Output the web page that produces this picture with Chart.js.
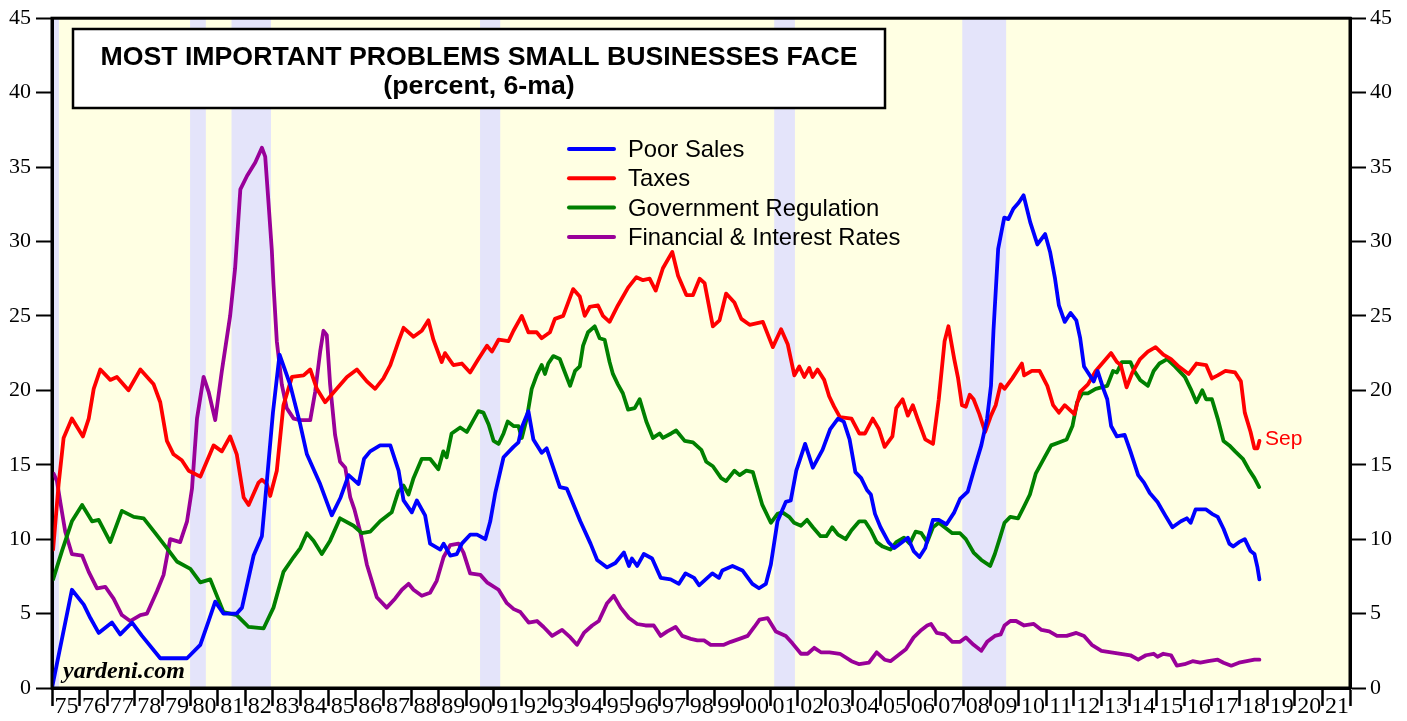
<!DOCTYPE html>
<html><head><meta charset="utf-8">
<script src="https://cdn.jsdelivr.net/npm/chart.js@4.4.1/dist/chart.umd.min.js"></script>
<style>html,body{margin:0;padding:0;background:#fff;overflow:hidden}</style>
</head><body>
<canvas id="c" width="1407" height="721"></canvas>
<script>
// ---------------- DATA ----------------
const seriesNames = ["Poor Sales", "Taxes", "Government Regulation", "Financial & Interest Rates"];
const recessions = [[1973.9,1975.25],[1980.0,1980.57],[1981.5,1982.93],[1990.5,1991.23],[2001.15,2001.9],[2007.96,2009.55]];

const salesYears = [1975.0,1975.72,1976.15,1976.39,1976.69,1977.17,1977.47,1977.9,1978.26,1978.92,1979.89,1980.37,1980.67,1980.91,1981.21,1981.69,1981.88,1982.3,1982.6,1982.78,1983.0,1983.24,1983.62,1983.99,1984.23,1984.71,1985.13,1985.45,1985.74,1986.1,1986.3,1986.52,1986.88,1987.25,1987.55,1987.73,1988.03,1988.21,1988.51,1988.69,1989.06,1989.18,1989.42,1989.66,1989.84,1990.14,1990.39,1990.69,1990.87,1991.05,1991.35,1991.71,1991.89,1992.01,1992.25,1992.43,1992.73,1992.91,1993.15,1993.39,1993.64,1993.82,1994.13,1994.5,1994.74,1995.1,1995.4,1995.71,1995.89,1996.0,1996.19,1996.43,1996.73,1997.04,1997.4,1997.7,1997.94,1998.25,1998.43,1998.67,1998.91,1999.15,1999.27,1999.64,2000.0,2000.36,2000.6,2000.85,2001.03,2001.27,2001.57,2001.75,2001.95,2002.27,2002.55,2002.9,2003.18,2003.46,2003.67,2003.88,2004.09,2004.3,2004.51,2004.65,2004.8,2005.0,2005.29,2005.5,2005.78,2005.99,2006.2,2006.41,2006.62,2006.9,2007.11,2007.39,2007.67,2007.88,2008.16,2008.44,2008.65,2008.86,2009.0,2009.09,2009.26,2009.48,2009.63,2009.81,2010.0,2010.18,2010.42,2010.68,2010.96,2011.14,2011.32,2011.46,2011.67,2011.88,2012.09,2012.23,2012.37,2012.51,2012.72,2012.86,2013.07,2013.21,2013.35,2013.56,2013.84,2014.05,2014.33,2014.54,2014.75,2015.03,2015.31,2015.57,2015.88,2016.09,2016.23,2016.41,2016.79,2017.0,2017.21,2017.42,2017.63,2017.77,2017.98,2018.19,2018.4,2018.54,2018.65,2018.72];
const salesValues = [0,6.6,5.6,4.7,3.7,4.4,3.6,4.4,3.5,2.0,2.0,2.9,4.5,5.8,5.0,5.0,5.4,8.9,10.2,13.9,18.5,22.4,20.4,17.7,15.7,13.7,11.6,12.8,14.3,13.7,15.4,15.9,16.3,16.3,14.6,12.6,11.8,12.6,11.6,9.7,9.3,9.7,8.9,9.0,9.7,10.3,10.3,10.0,11.2,13.1,15.5,16.2,16.5,17.5,18.6,16.7,15.8,16.1,14.8,13.5,13.4,12.6,11.2,9.7,8.6,8.1,8.4,9.1,8.2,8.7,8.2,9.0,8.7,7.4,7.3,7.0,7.7,7.4,6.9,7.3,7.7,7.4,7.9,8.2,7.9,7.0,6.7,7.0,8.3,11.2,12.5,12.6,14.6,16.4,14.8,16.0,17.4,18.1,17.9,16.7,14.5,14.1,13.3,13.0,11.7,10.8,9.8,9.4,9.8,10.1,9.2,8.8,9.4,11.3,11.3,11.0,11.8,12.7,13.2,15.0,16.3,18.1,20.3,24.0,29.5,31.6,31.5,32.2,32.6,33.1,31.3,29.8,30.5,29.3,27.5,25.7,24.6,25.2,24.7,23.5,21.6,21.2,20.6,21.3,20.1,19.4,17.6,16.9,17.0,15.9,14.3,13.8,13.1,12.5,11.6,10.8,11.2,11.4,11.1,12.0,12.0,11.7,11.5,10.7,9.7,9.5,9.8,10.0,9.2,9.0,8.1,7.3];

const taxesYears = [1975.04,1975.24,1975.42,1975.72,1976.12,1976.33,1976.51,1976.75,1977.11,1977.35,1977.77,1978.2,1978.68,1978.92,1979.16,1979.4,1979.7,1979.95,1980.37,1980.85,1981.15,1981.45,1981.69,1981.94,1982.12,1982.48,1982.6,1982.78,1982.9,1983.14,1983.38,1983.69,1984.11,1984.35,1984.59,1984.89,1985.31,1985.68,1986.04,1986.4,1986.7,1987.0,1987.25,1987.55,1987.73,1988.09,1988.39,1988.63,1988.81,1989.11,1989.23,1989.53,1989.84,1990.14,1990.44,1990.75,1990.93,1991.17,1991.53,1991.71,1992.01,1992.25,1992.55,1992.73,1993.03,1993.21,1993.51,1993.87,1994.11,1994.29,1994.47,1994.77,1994.95,1995.19,1995.49,1995.86,1996.16,1996.4,1996.64,1996.86,1997.12,1997.46,1997.67,1997.97,1998.21,1998.45,1998.63,1998.93,1999.17,1999.41,1999.71,1999.96,2000.26,2000.74,2001.1,2001.4,2001.64,2001.88,2002.06,2002.24,2002.42,2002.54,2002.72,2002.96,2003.14,2003.32,2003.53,2003.95,2004.23,2004.44,2004.72,2004.94,2005.15,2005.43,2005.57,2005.8,2005.99,2006.17,2006.34,2006.62,2006.9,2007.11,2007.32,2007.46,2007.67,2007.81,2007.95,2008.09,2008.23,2008.37,2008.58,2008.79,2009.0,2009.17,2009.35,2009.49,2009.77,2010.12,2010.2,2010.48,2010.76,2011.04,2011.25,2011.46,2011.67,2012.02,2012.23,2012.51,2012.79,2013.07,2013.35,2013.56,2013.7,2013.91,2014.12,2014.4,2014.68,2014.96,2015.24,2015.52,2015.8,2016.16,2016.44,2016.79,2017.0,2017.21,2017.49,2017.84,2018.05,2018.19,2018.4,2018.54,2018.65,2018.72];
const taxesValues = [9.3,13.7,16.8,18.1,16.9,18.1,20.1,21.4,20.7,20.9,20.0,21.4,20.4,19.2,16.6,15.7,15.3,14.6,14.2,16.3,15.9,16.9,15.7,12.8,12.3,13.8,14.0,13.7,12.9,14.6,19.0,20.9,21.0,21.4,20.1,19.2,20.1,20.9,21.4,20.6,20.1,20.8,21.7,23.3,24.2,23.6,24.0,24.7,23.4,21.9,22.5,21.7,21.8,21.2,22.1,23.0,22.6,23.4,23.3,24.0,25.0,23.9,23.9,23.5,23.9,24.8,25.0,26.8,26.3,25.0,25.6,25.7,25.0,24.6,25.7,26.9,27.6,27.4,27.5,26.7,28.2,29.3,27.7,26.4,26.4,27.5,27.2,24.3,24.7,26.5,25.9,24.8,24.4,24.6,22.9,24.1,23.1,21.0,21.6,20.9,21.5,20.9,21.4,20.7,19.6,18.9,18.2,18.1,17.1,17.1,18.1,17.4,16.2,16.9,18.8,19.4,18.3,19.0,18.1,16.7,16.4,19.4,23.3,24.3,22.1,20.8,19.0,18.9,19.7,19.4,18.4,17.2,18.3,19.0,20.4,20.1,20.8,21.8,21.0,21.3,21.3,20.3,19.0,18.5,19.0,18.4,19.9,20.4,21.3,21.9,22.5,21.9,21.7,20.2,21.2,22.1,22.6,22.9,22.4,22.1,21.6,21.1,21.8,21.7,20.8,21.0,21.3,21.2,20.6,18.5,17.2,16.1,16.1,16.6];

const regulationYears = [1975.04,1975.36,1975.72,1976.09,1976.45,1976.69,1977.11,1977.53,1977.96,1978.32,1978.74,1979.16,1979.52,1980.01,1980.37,1980.73,1981.21,1981.69,1982.12,1982.66,1983.02,1983.38,1983.75,1983.99,1984.23,1984.47,1984.77,1985.07,1985.43,1985.92,1986.22,1986.52,1986.88,1987.3,1987.54,1987.73,1987.91,1988.09,1988.39,1988.69,1988.99,1989.17,1989.29,1989.47,1989.78,1990.02,1990.2,1990.44,1990.62,1990.81,1990.99,1991.17,1991.35,1991.5,1991.71,1991.89,1992.01,1992.19,1992.37,1992.55,1992.73,1992.85,1992.97,1993.15,1993.39,1993.51,1993.76,1993.94,1994.11,1994.23,1994.41,1994.65,1994.83,1995.01,1995.19,1995.31,1995.49,1995.67,1995.86,1996.1,1996.28,1996.52,1996.76,1997.0,1997.12,1997.42,1997.6,1997.91,1998.21,1998.51,1998.69,1998.93,1999.23,1999.41,1999.71,1999.9,2000.14,2000.38,2000.5,2000.72,2001.03,2001.27,2001.45,2001.69,2001.87,2002.12,2002.34,2002.55,2002.83,2003.04,2003.25,2003.46,2003.74,2003.95,2004.23,2004.44,2004.65,2004.86,2005.08,2005.36,2005.57,2005.85,2006.06,2006.27,2006.48,2006.69,2006.9,2007.11,2007.32,2007.6,2007.88,2008.09,2008.37,2008.65,2008.97,2009.14,2009.31,2009.49,2009.7,2009.98,2010.2,2010.41,2010.62,2010.94,2011.18,2011.46,2011.74,2011.95,2012.12,2012.3,2012.51,2012.79,2013.0,2013.21,2013.42,2013.56,2013.74,2014.05,2014.19,2014.4,2014.68,2014.89,2015.1,2015.38,2015.66,2016.02,2016.23,2016.44,2016.65,2016.79,2017.0,2017.21,2017.42,2017.63,2017.84,2018.12,2018.33,2018.54,2018.71];
const regulationValues = [7.3,9.2,11.2,12.3,11.2,11.3,9.8,11.9,11.5,11.4,10.4,9.4,8.5,8.0,7.1,7.3,5.1,4.9,4.1,4.0,5.4,7.8,8.8,9.4,10.4,9.9,9.0,9.9,11.4,10.9,10.4,10.5,11.2,11.8,13.2,13.6,13.0,14.1,15.4,15.4,14.7,15.9,15.5,17.1,17.5,17.2,17.8,18.6,18.5,17.7,16.6,16.4,17.1,17.9,17.6,17.6,16.8,18.1,20.1,21.0,21.7,21.1,21.8,22.3,22.1,21.5,20.3,21.3,21.6,23.0,23.9,24.3,23.5,23.4,21.9,21.1,20.4,19.8,18.7,18.8,19.4,17.9,16.8,17.1,16.8,17.1,17.3,16.6,16.5,16.0,15.2,14.9,14.1,13.9,14.6,14.3,14.6,14.5,13.7,12.3,11.1,11.7,11.8,11.5,11.1,10.9,11.3,10.8,10.2,10.2,10.8,10.3,10.0,10.6,11.2,11.2,10.6,9.8,9.5,9.3,9.8,10.1,9.7,10.5,10.4,9.8,10.8,11.1,10.8,10.4,10.4,10.0,9.1,8.6,8.2,9.0,10.0,11.1,11.5,11.4,12.2,13.0,14.4,15.5,16.3,16.5,16.7,17.6,19.2,19.8,19.8,20.1,20.2,20.3,21.3,21.2,21.9,21.9,21.3,20.7,20.3,21.3,21.8,22.1,21.6,20.9,20.1,19.2,20.0,19.4,19.4,18.1,16.6,16.3,15.9,15.4,14.7,14.1,13.5];

const financeYears = [1975.06,1975.18,1975.3,1975.48,1975.72,1976.09,1976.33,1976.63,1976.93,1977.23,1977.53,1977.83,1978.2,1978.44,1978.8,1979.04,1979.28,1979.64,1979.89,1980.07,1980.25,1980.49,1980.67,1980.91,1981.15,1981.45,1981.63,1981.82,1982.06,1982.36,1982.6,1982.72,1982.84,1982.96,1983.02,1983.14,1983.32,1983.5,1983.75,1983.99,1984.35,1984.53,1984.71,1984.83,1984.95,1985.07,1985.25,1985.43,1985.62,1985.8,1985.95,1986.16,1986.4,1986.76,1987.12,1987.42,1987.67,1987.91,1988.09,1988.39,1988.69,1988.93,1989.18,1989.42,1989.72,1989.9,1990.14,1990.51,1990.75,1991.17,1991.47,1991.72,1991.96,1992.26,1992.56,1992.8,1993.11,1993.47,1993.77,1994.01,1994.26,1994.56,1994.8,1995.1,1995.34,1995.59,1995.89,1996.19,1996.49,1996.79,1997.04,1997.28,1997.58,1997.82,1998.13,1998.37,1998.61,1998.85,1999.33,1999.58,1999.89,2000.19,2000.43,2000.62,2000.91,2001.21,2001.57,2001.81,2002.12,2002.36,2002.6,2002.84,2003.15,2003.53,2003.95,2004.23,2004.58,2004.86,2005.15,2005.36,2005.64,2005.92,2006.2,2006.48,2006.69,2006.83,2007.04,2007.32,2007.6,2007.88,2008.09,2008.37,2008.65,2008.86,2009.14,2009.35,2009.49,2009.7,2009.91,2010.2,2010.55,2010.83,2011.11,2011.39,2011.74,2012.09,2012.37,2012.65,2013.0,2013.35,2013.7,2014.05,2014.33,2014.61,2014.89,2015.03,2015.24,2015.52,2015.73,2016.01,2016.3,2016.58,2016.86,2017.21,2017.42,2017.7,2017.98,2018.26,2018.54,2018.72];
const financeValues = [14.4,13.9,12.5,10.5,9.0,8.9,7.8,6.7,6.8,6.0,4.9,4.5,4.9,5.0,6.5,7.6,10.0,9.8,11.2,13.4,18.1,20.9,19.9,18.0,21.3,25.0,28.2,33.5,34.4,35.3,36.3,35.7,32.6,29.4,27.1,23.3,20.4,18.8,18.1,18.0,18.0,19.9,22.6,24.0,23.7,20.4,17.0,15.2,14.8,12.8,12.0,10.5,8.3,6.1,5.4,6.0,6.6,7.0,6.6,6.2,6.4,7.2,8.8,9.6,9.7,9.1,7.7,7.6,7.1,6.6,5.7,5.3,5.1,4.4,4.5,4.1,3.5,3.9,3.4,2.9,3.7,4.2,4.5,5.7,6.2,5.4,4.7,4.3,4.2,4.2,3.5,3.8,4.1,3.5,3.3,3.2,3.2,2.9,2.9,3.1,3.3,3.5,4.1,4.6,4.7,3.8,3.5,3.0,2.3,2.3,2.7,2.4,2.4,2.3,1.8,1.6,1.7,2.4,1.9,1.8,2.2,2.6,3.4,3.9,4.2,4.3,3.7,3.6,3.1,3.1,3.4,2.9,2.5,3.1,3.5,3.6,4.2,4.5,4.5,4.2,4.3,3.9,3.8,3.5,3.5,3.7,3.5,2.9,2.5,2.4,2.3,2.2,1.9,2.2,2.3,2.1,2.3,2.2,1.5,1.6,1.8,1.7,1.8,1.9,1.7,1.5,1.7,1.8,1.9,1.9];

const yTicks = [0,5,10,15,20,25,30,35,40,45];
const yearTicks = []; for (let y = 1975; y <= 2022; y++) yearTicks.push(y);

// ---------------- CHART ----------------
const SANS = '"Liberation Sans", Arial, Helvetica, sans-serif';
const SERIF = '"Liberation Serif", "Times New Roman", serif';
const zip = (xs, ys) => xs.map((x, i) => ({x: x, y: ys[i]}));
const colors = ['#0000ff', '#ff0000', '#008000', '#990099'];
const seriesData = [zip(salesYears, salesValues), zip(taxesYears, taxesValues), zip(regulationYears, regulationValues), zip(financeYears, financeValues)];

const bgPlugin = {
  id: 'bg',
  beforeDraw(chart) {
    const {ctx, chartArea: a, scales: {x}} = chart;
    ctx.save();
    ctx.fillStyle = '#ffffe3';
    ctx.fillRect(a.left, a.top, a.right - a.left, a.bottom - a.top);
    ctx.fillStyle = '#e4e4fa';
    recessions.forEach(([s, e]) => {
      const x0 = Math.max(a.left, x.getPixelForValue(s));
      const x1 = Math.min(a.right, x.getPixelForValue(e));
      if (x1 > x0) ctx.fillRect(x0, a.top, x1 - x0, a.bottom - a.top);
    });
    ctx.restore();
  },
  afterDatasetsDraw(chart) {
    const {ctx, chartArea: a} = chart;
    ctx.save();
    // frame
    ctx.strokeStyle = '#000'; ctx.lineWidth = 3;
    ctx.strokeRect(a.left, a.top, a.right - a.left, a.bottom - a.top);
    // title box
    ctx.fillStyle = '#fff'; ctx.lineWidth = 2.5;
    ctx.fillRect(73, 29, 812, 79); ctx.strokeRect(73, 29, 812, 79);
    ctx.fillStyle = '#000'; ctx.textAlign = 'center'; ctx.textBaseline = 'alphabetic';
    const t1 = 'MOST IMPORTANT PROBLEMS SMALL BUSINESSES FACE';
    ctx.font = 'bold 26px ' + SANS;
    let s = 26 * 758 / ctx.measureText(t1).width;
    s = Math.max(22, Math.min(28, s));
    ctx.font = 'bold ' + s.toFixed(1) + 'px ' + SANS;
    ctx.fillText(t1, 479, 65);
    ctx.fillText('(percent, 6-ma)', 479, 94);
    // legend
    ctx.textAlign = 'left';
    ctx.font = '22px ' + SANS;
    let ls = 22 * 273 / ctx.measureText(seriesNames[3]).width;
    ls = Math.max(19, Math.min(25, ls));
    ctx.font = ls.toFixed(1) + 'px ' + SANS;
    chart.data.datasets.forEach((ds, i) => {
      const base = 157 + i * 29.3;
      ctx.strokeStyle = ds.borderColor; ctx.lineWidth = 4; ctx.lineCap = 'round';
      ctx.beginPath(); ctx.moveTo(569, base - 8); ctx.lineTo(614, base - 8); ctx.stroke();
      ctx.fillStyle = '#000';
      ctx.fillText(ds.label, 628, base);
    });
    // Sep label
    ctx.fillStyle = '#ff0000'; ctx.font = '21px ' + SANS;
    ctx.fillText('Sep', 1265, 445);
    // yardeni.com
    ctx.fillStyle = '#000';
    ctx.font = 'italic bold 20px ' + SERIF;
    let ys = 20 * 127 / ctx.measureText('yardeni.com').width;
    ys = Math.max(16, Math.min(24, ys));
    ctx.font = 'italic bold ' + ys.toFixed(1) + 'px ' + SERIF;
    ctx.fillText('yardeni.com', 63, 678);
    ctx.restore();
  }
};

const yAxis = (pos, width, pad) => ({
  type: 'linear', position: pos, min: 0, max: 45,
  afterBuildTicks: sc => { sc.ticks = yTicks.map(v => ({value: v})); },
  afterFit: sc => { sc.width = width; },
  ticks: {color: '#000', padding: pad, font: {family: SERIF, size: 22}, autoSkip: false},
  grid: {drawOnChartArea: false, drawTicks: true, tickLength: 16, tickWidth: 2, tickColor: '#000'},
  border: {display: true, width: 3, color: '#000'}
});

new Chart(document.getElementById('c'), {
  type: 'line',
  data: {
    datasets: seriesNames.map((n, i) => ({
      label: n, data: seriesData[i], borderColor: colors[i], backgroundColor: colors[i],
      borderWidth: 3.8, pointRadius: 0, tension: 0, fill: false,
      borderJoinStyle: 'round', borderCapStyle: 'round', yAxisID: 'y'
    }))
  },
  options: {
    responsive: false, animation: false, devicePixelRatio: 1,
    parsing: false, normalized: true,
    layout: {padding: {top: 15, left: 0, right: 0, bottom: 0}},
    plugins: {legend: {display: false}, tooltip: {enabled: false}, title: {display: false}},
    scales: {
      x: {
        type: 'linear', position: 'bottom', min: 1975, max: 2022,
        afterBuildTicks: sc => { sc.ticks = yearTicks.map(v => ({value: v})); },
        afterFit: sc => { sc.height = 33; },
        ticks: {
          autoSkip: false, maxRotation: 0, minRotation: 0, labelOffset: 14.5, padding: -14,
          color: '#000', font: {family: SERIF, size: 24},
          callback: v => v >= 2022 ? '' : String(v % 100).padStart(2, '0')
        },
        grid: {drawOnChartArea: false, drawTicks: true, tickLength: 18, tickWidth: 2.5, tickColor: '#000'},
        border: {display: true, width: 3, color: '#000'}
      },
      y: yAxis('left', 52, 5),
      y2: yAxis('right', 57, 4)
    }
  },
  plugins: [bgPlugin]
});
</script>
</body></html>
